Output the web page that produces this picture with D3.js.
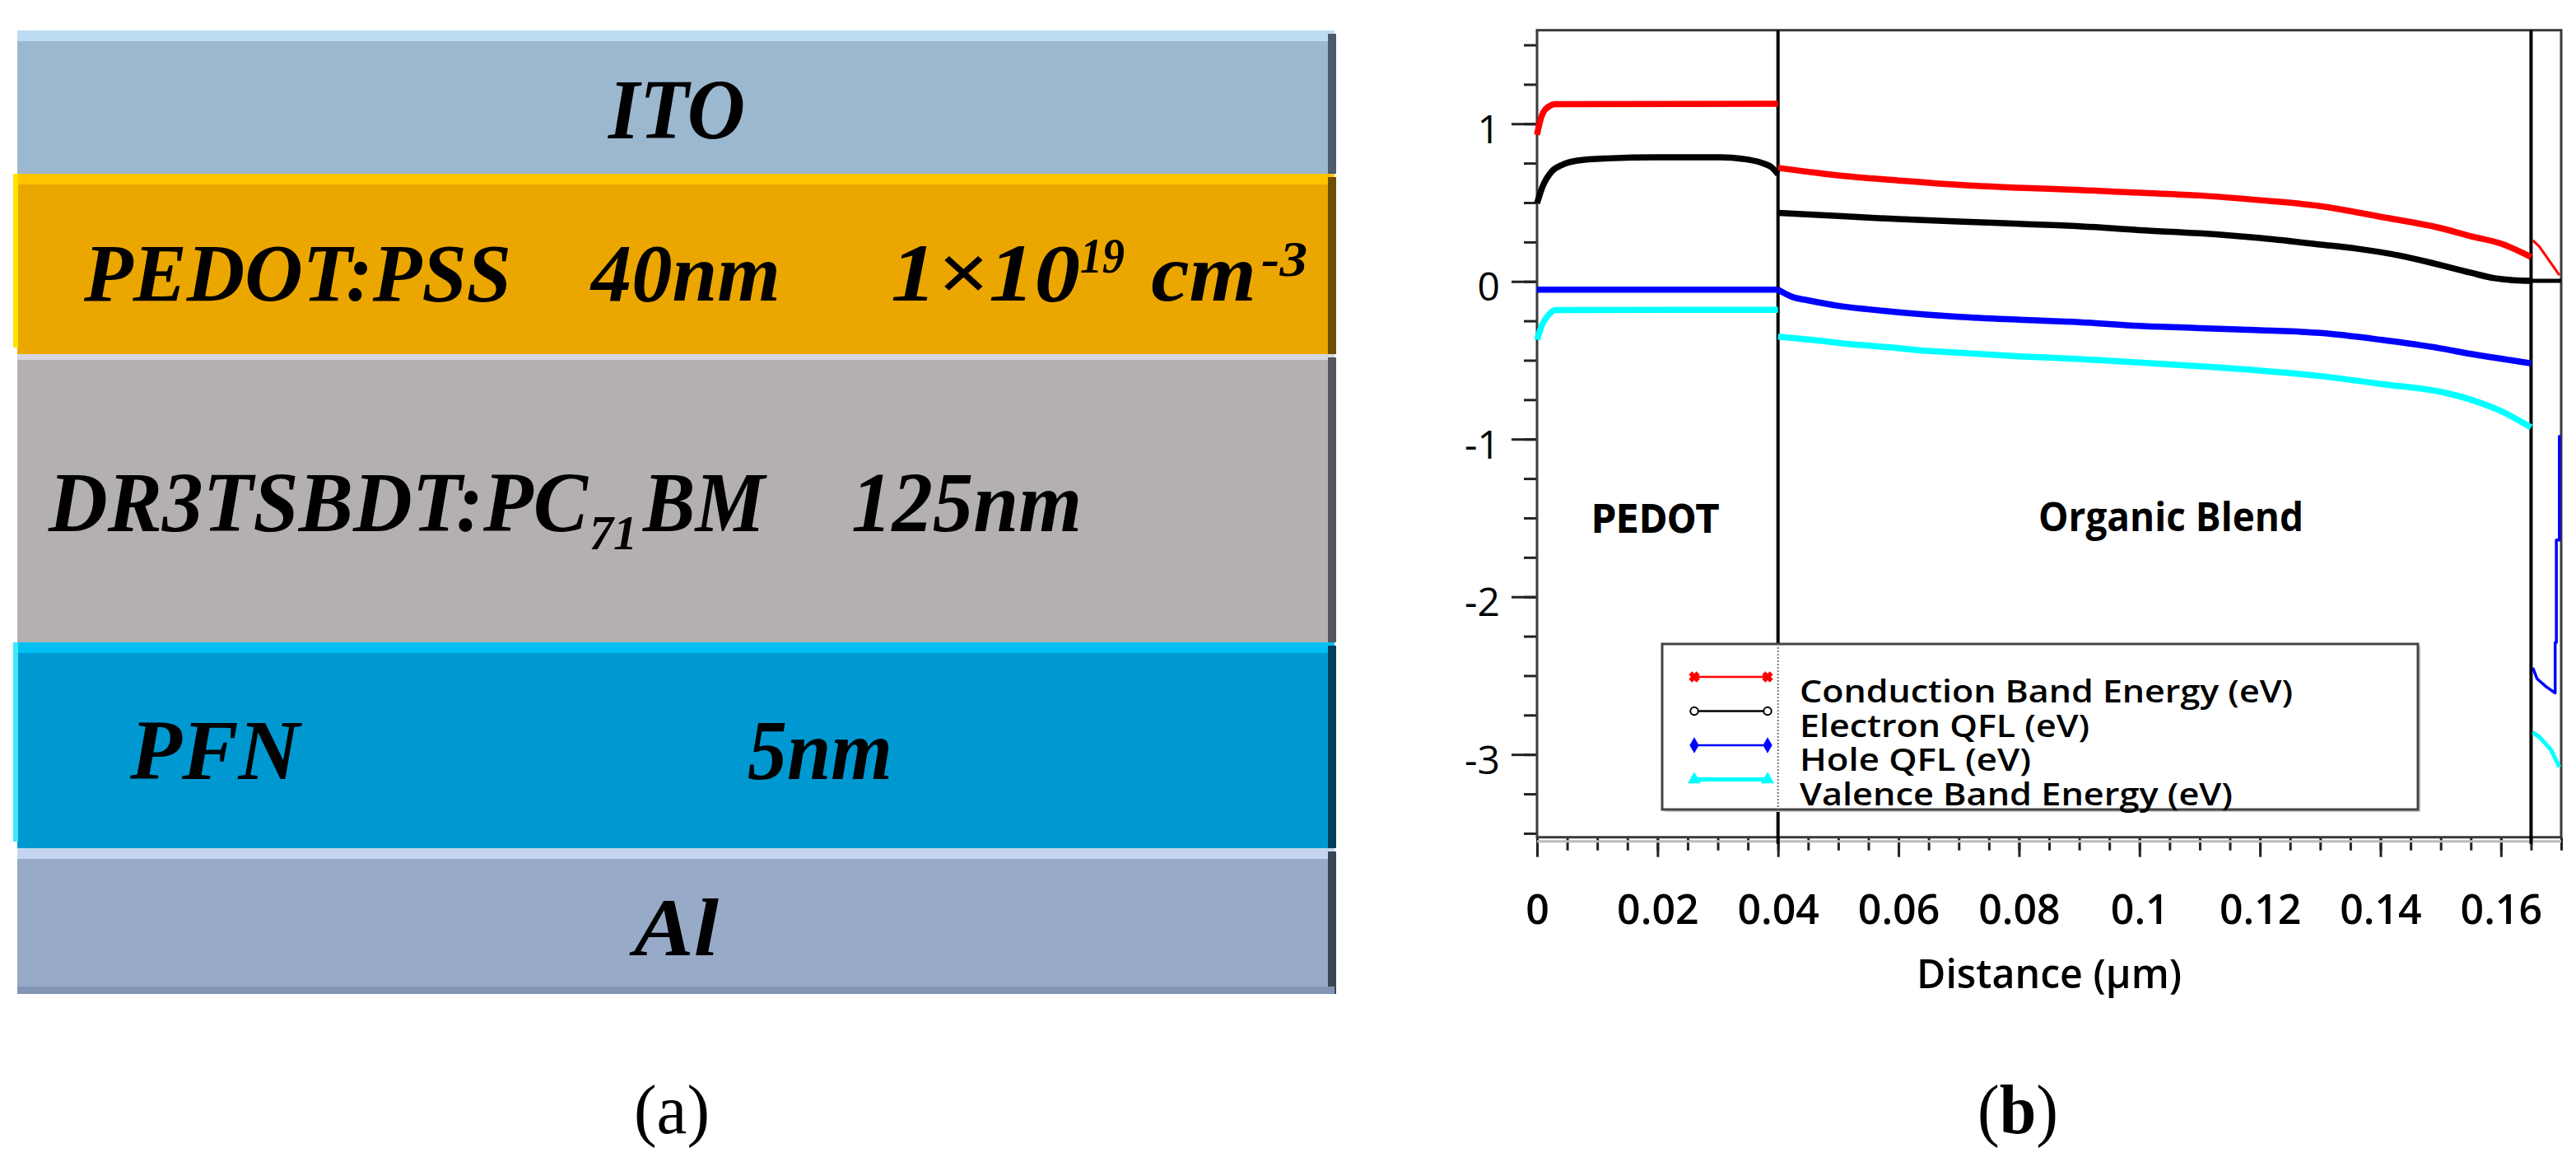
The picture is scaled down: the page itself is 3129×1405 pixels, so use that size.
<!DOCTYPE html>
<html>
<head>
<meta charset="utf-8">
<script src="https://cdn.jsdelivr.net/npm/d3@7"></script>
<style>
	body { margin: 0; background: #fff; }
</style>
</head>
<body>
<svg id="chart" width="3129" height="1405"></svg>
<script>
// ---- panel (b) data: distance (um) vs energy (eV) ----
var xTicks = [0, 0.02, 0.04, 0.06, 0.08, 0.1, 0.12, 0.14, 0.16];
var yTicks = [-3, -2, -1, 0, 1];
var interfaces = [0.04, 0.165];
var regionNames = ['PEDOT', 'Organic Blend'];
var seriesNames = ['Conduction Band Energy (eV)', 'Electron QFL (eV)', 'Hole QFL (eV)', 'Valence Band Energy (eV)'];
var seriesColors = ['#ff0000', '#000000', '#0000ff', '#00ffff'];

var cbPedot = [[0,0.93],[0.0004,1.0],[0.001,1.07],[0.002,1.11],[0.003,1.124],[0.04,1.126]];
var cbBlend = [[0.04,0.72],[0.045,0.695],[0.05,0.672],[0.06,0.64],[0.07,0.612],[0.08,0.594],[0.09,0.58],[0.1,0.562],[0.11,0.545],[0.12,0.515],[0.13,0.478],[0.14,0.41],[0.15,0.338],[0.155,0.287],[0.16,0.24],[0.165,0.155]];
var cbPfn = [[0.1653,0.26],[0.1664,0.22],[0.1675,0.16],[0.1686,0.1],[0.1697,0.04]];

var efPedot = [[0,0.495],[0.0009,0.6],[0.0025,0.7],[0.0042,0.74],[0.0067,0.766],[0.0116,0.78],[0.02,0.787],[0.0305,0.787],[0.0342,0.777],[0.0372,0.753],[0.039,0.722],[0.04,0.68]];
var efBlend = [[0.04,0.435],[0.05,0.415],[0.06,0.395],[0.07,0.38],[0.08,0.365],[0.09,0.35],[0.1,0.325],[0.11,0.305],[0.12,0.275],[0.13,0.234],[0.136,0.208],[0.143,0.165],[0.149,0.113],[0.155,0.055],[0.159,0.02],[0.162,0.008],[0.165,0.004]];
var efPfn = [[0.165,0.004],[0.17,0.004]];

var hfPedot = [[0,-0.052],[0.04,-0.052]];
var hfBlend = [[0.04,-0.052],[0.0425,-0.1],[0.045,-0.12],[0.05,-0.155],[0.055,-0.177],[0.06,-0.196],[0.07,-0.225],[0.08,-0.243],[0.09,-0.258],[0.1,-0.282],[0.11,-0.296],[0.12,-0.31],[0.13,-0.327],[0.14,-0.37],[0.15,-0.425],[0.155,-0.46],[0.16,-0.49],[0.165,-0.52]];
var hfPfn = [[0.1653,-2.45],[0.166,-2.52],[0.1675,-2.57],[0.169,-2.61],[0.169,-2.29],[0.1692,-2.29],[0.1692,-1.64],[0.1697,-1.64],[0.1697,-0.975]];

var vbPedot = [[0,-0.37],[0.0009,-0.27],[0.0018,-0.217],[0.0031,-0.182],[0.04,-0.18]];
var vbBlend = [[0.04,-0.35],[0.0464,-0.374],[0.0525,-0.4],[0.0586,-0.418],[0.0646,-0.44],[0.07,-0.452],[0.08,-0.475],[0.09,-0.492],[0.1,-0.515],[0.11,-0.538],[0.12,-0.565],[0.13,-0.6],[0.14,-0.65],[0.15,-0.7],[0.155,-0.75],[0.16,-0.822],[0.165,-0.926]];
var vbPfn = [[0.1653,-2.86],[0.1664,-2.89],[0.1683,-2.97],[0.1697,-3.08]];

var seriesData = [
	[cbPedot, cbBlend, cbPfn],
	[efPedot, efBlend, efPfn],
	[hfPedot, hfBlend, hfPfn],
	[vbPedot, vbBlend, vbPfn]
];

// ---- panel (a): device stack ----
var layerNames = ['ITO', 'PEDOT:PSS', 'DR3TSBDT:PC', 'PFN', 'Al'];
var layerThickness = ['', '40nm', '125nm', '5nm', ''];

var serif = "'Liberation Serif', 'Times New Roman', serif";
var sans = "'Open Sans', 'DejaVu Sans', sans-serif";

var svg = d3.select('#chart');
svg.append('rect').attr('width', 3129).attr('height', 1405).attr('fill', '#fff');

function fitText(g, str, x, y, w, size, family, weight, style) {
	var t = g.append('text')
		.attr('x', x).attr('y', y)
		.attr('font-family', family)
		.attr('font-size', size)
		.attr('font-weight', weight || 'normal')
		.attr('font-style', style || 'normal')
		.attr('fill', '#000')
		.text(str);
	if (w) t.attr('textLength', w).attr('lengthAdjust', 'spacingAndGlyphs');
	return t;
}

// one text line made of placed pieces: [string, x, y, width, size]
function pieceText(g, pieces) {
	var t = g.append('text')
		.attr('font-family', serif).attr('font-weight', 'bold').attr('font-style', 'italic')
		.attr('fill', '#000');
	pieces.forEach(function (p) {
		t.append('tspan')
			.attr('x', p[1]).attr('y', p[2])
			.attr('font-size', p[4])
			.attr('textLength', p[3]).attr('lengthAdjust', 'spacingAndGlyphs')
			.text(p[0]);
	});
	return t;
}

// layer boxes (layout only)
var stack = [
	{top: 37,  bottom: 211,  body: '#9bb8cf', hi: '#bddcf2', edge: '#4b5b6d', left: null},
	{top: 211, bottom: 430,  body: '#eba600', hi: '#ffc300', edge: '#6e4e00', left: '#ffe300'},
	{top: 430, bottom: 780,  body: '#b4b0b1', hi: '#d7d6df', edge: '#55575c', left: null},
	{top: 780, bottom: 1030, body: '#0098d1', hi: '#00c0f2', edge: '#003f5a', left: '#40e8f5'},
	{top: 1030, bottom: 1207, body: '#97abc8', hi: '#c6d5ef', edge: '#3a4656', left: null}
];
var panelA = svg.append('g');
stack.forEach(function (s, i) {
	panelA.append('rect').attr('x', 21).attr('y', s.top).attr('width', 1600).attr('height', s.bottom - s.top).attr('fill', s.body);
	panelA.append('rect').attr('x', 21).attr('y', s.top).attr('width', 1600).attr('height', i == 2 ? 7 : 13).attr('fill', s.hi);
	panelA.append('rect').attr('x', 1613).attr('y', s.top + 4).attr('width', 10).attr('height', s.bottom - s.top - 4).attr('fill', s.edge);
	if (s.left) {
		panelA.append('rect').attr('x', 16).attr('y', s.top).attr('width', 6).attr('height', s.bottom - s.top - 8).attr('fill', s.left);
	}
	if (i == 4) {
		panelA.append('rect').attr('x', 21).attr('y', s.bottom - 9).attr('width', 1600).attr('height', 9).attr('fill', '#8295b5');
	}
});

fitText(panelA, layerNames[0], 739, 168, 166, 104, serif, 'bold', 'italic');
fitText(panelA, layerNames[1], 102, 365, 519, 100, serif, 'bold', 'italic');
fitText(panelA, layerThickness[1], 718, 365, 230, 100, serif, 'bold', 'italic');
pieceText(panelA, [['1\u00d710', 1082, 365, 230, 100], ['19', 1312, 331, 54, 62], [' cm', 1372, 365, 154, 100], ['-3', 1532, 335, 56, 62]]);
pieceText(panelA, [[layerNames[2], 59, 645, 655, 104], ['71', 716, 667, 58, 60], ['BM', 781, 645, 148, 104]]);
fitText(panelA, layerThickness[2], 1034, 645, 280, 104, serif, 'bold', 'italic');
fitText(panelA, layerNames[3], 158, 946, 206, 104, serif, 'bold', 'italic');
fitText(panelA, layerThickness[3], 908, 946, 176, 104, serif, 'bold', 'italic');
fitText(panelA, layerNames[4], 770, 1160, 103, 100, serif, 'bold', 'italic');
fitText(panelA, '(a)', 770, 1376, 92, 84, serif, 'normal', 'normal');

// ---- panel (b) ----
var x = d3.scaleLinear().domain([0, 0.17]).range([1867, 3111]);
var y = d3.scaleLinear().domain([-3.525, 1.593]).range([1016.7, 36.7]);
var panelB = svg.append('g');

// minor ticks
var yMinor = d3.range(-14, 7).map(function (i) { return i * 0.25; });
var xMinor = d3.range(0, 35).map(function (i) { return i * 0.005; });

var gyMinor = panelB.append('g').attr('transform', 'translate(' + x(0) + ',0)')
	.call(d3.axisLeft(y).tickValues(yMinor).tickSize(16).tickFormat(''));
var gy = panelB.append('g').attr('transform', 'translate(' + x(0) + ',0)')
	.call(d3.axisLeft(y).tickValues(yTicks).tickSize(31).tickPadding(14).tickFormat(function (d) { return String(d); }));
var gxMinor = panelB.append('g').attr('transform', 'translate(0,' + y.range()[0] + ')')
	.call(d3.axisBottom(x).tickValues(xMinor).tickSize(16).tickFormat(''));
var gx = panelB.append('g').attr('transform', 'translate(0,' + y.range()[0] + ')')
	.call(d3.axisBottom(x).tickValues(xTicks).tickSize(24).tickFormat(function (d) { return String(+d.toFixed(2)); }));

[gyMinor, gy, gxMinor, gx].forEach(function (g) {
	g.select('.domain').remove();
	g.selectAll('.tick line').attr('stroke', '#222').attr('stroke-width', 3);
});
gy.selectAll('.tick text')
	.attr('font-family', sans).attr('font-size', 48).attr('fill', '#000')
	.attr('dy', '0.48em');
gx.selectAll('.tick text')
	.attr('font-family', sans).attr('font-size', 50).attr('font-weight', 600).attr('fill', '#000')
	.attr('y', 105).attr('dy', 0);

// frame
panelB.append('line').attr('x1', x(0)).attr('x2', x(0.17)).attr('y1', y.range()[0] + 5).attr('y2', y.range()[0] + 5)
	.attr('stroke', '#bbb').attr('stroke-width', 3);
panelB.append('rect')
	.attr('x', x(0)).attr('y', y.range()[1])
	.attr('width', x(0.17) - x(0)).attr('height', y.range()[0] - y.range()[1])
	.attr('fill', 'none').attr('stroke', '#3a3a3a').attr('stroke-width', 3);

// interface lines
panelB.selectAll('line.iface').data(interfaces).enter().append('line')
	.attr('class', 'iface')
	.attr('x1', function (d) { return x(d); }).attr('x2', function (d) { return x(d); })
	.attr('y1', y.range()[1]).attr('y2', y.range()[0] + 8)
	.attr('stroke', '#000').attr('stroke-width', 4);

// curves
var smooth = d3.line().x(function (d) { return x(d[0]); }).y(function (d) { return y(d[1]); }).curve(d3.curveMonotoneX);
var straight = d3.line().x(function (d) { return x(d[0]); }).y(function (d) { return y(d[1]); });
var pfnWidth = [3, 5, 3.5, 5];
seriesData.forEach(function (segs, si) {
	segs.forEach(function (seg, k) {
		panelB.append('path')
			.attr('d', k < 2 ? smooth(seg) : straight(seg))
			.attr('fill', 'none')
			.attr('stroke', seriesColors[si])
			.attr('stroke-width', k < 2 ? 7.5 : pfnWidth[si])
			.attr('stroke-linejoin', 'round');
	});
});

// region labels
fitText(panelB, regionNames[0], 1933, 647, 155, 48, "'DejaVu Sans', sans-serif", 'bold');
fitText(panelB, regionNames[1], 2476, 645, 322, 48, sans, 'bold');

// axis title
fitText(panelB, 'Distance (\u00b5m)', 2328, 1200, 322, 48, sans, 600);

// legend
var leg = panelB.append('g');
leg.append('rect').attr('x', 2022).attr('y', 785).attr('width', 918).attr('height', 201).attr('fill', '#ccc');
leg.append('rect').attr('x', 2019).attr('y', 782).attr('width', 918).attr('height', 201)
	.attr('fill', '#fff').attr('stroke', '#444').attr('stroke-width', 3);
leg.append('line').attr('x1', x(interfaces[0])).attr('x2', x(interfaces[0])).attr('y1', 782).attr('y2', 983)
	.attr('stroke', '#777').attr('stroke-width', 2).attr('stroke-dasharray', '2,2');
var symbols = [d3.symbolCross, d3.symbolCircle, d3.symbolDiamond, d3.symbolTriangle];
var legWidths = [599, 352, 281, 526];
seriesNames.forEach(function (name, i) {
	var ly = 822 + i * 41.5;
	leg.append('line').attr('x1', 2058).attr('x2', 2147).attr('y1', ly).attr('y2', ly)
		.attr('stroke', seriesColors[i]).attr('stroke-width', i == 3 ? 5 : 2.5);
	[2058, 2147].forEach(function (sx) {
		leg.append('path')
			.attr('d', d3.symbol().type(symbols[i]).size(70)())
			.attr('transform', 'translate(' + sx + ',' + ly + ')' + (i == 0 ? ' rotate(45)' : ''))
			.attr('fill', i == 1 ? '#fff' : seriesColors[i])
			.attr('stroke', seriesColors[i]).attr('stroke-width', 2);
	});
	fitText(leg, name, 2186, ly + 31, legWidths[i], 38, sans, 600);
});

// (b) caption
var cap = panelB.append('text').attr('x', 2402).attr('y', 1376)
	.attr('font-family', serif).attr('font-size', 84).attr('fill', '#000')
	.attr('textLength', 98).attr('lengthAdjust', 'spacingAndGlyphs');
cap.append('tspan').text('(');
cap.append('tspan').attr('font-weight', 'bold').text('b');
cap.append('tspan').text(')');
</script>
</body>
</html>
